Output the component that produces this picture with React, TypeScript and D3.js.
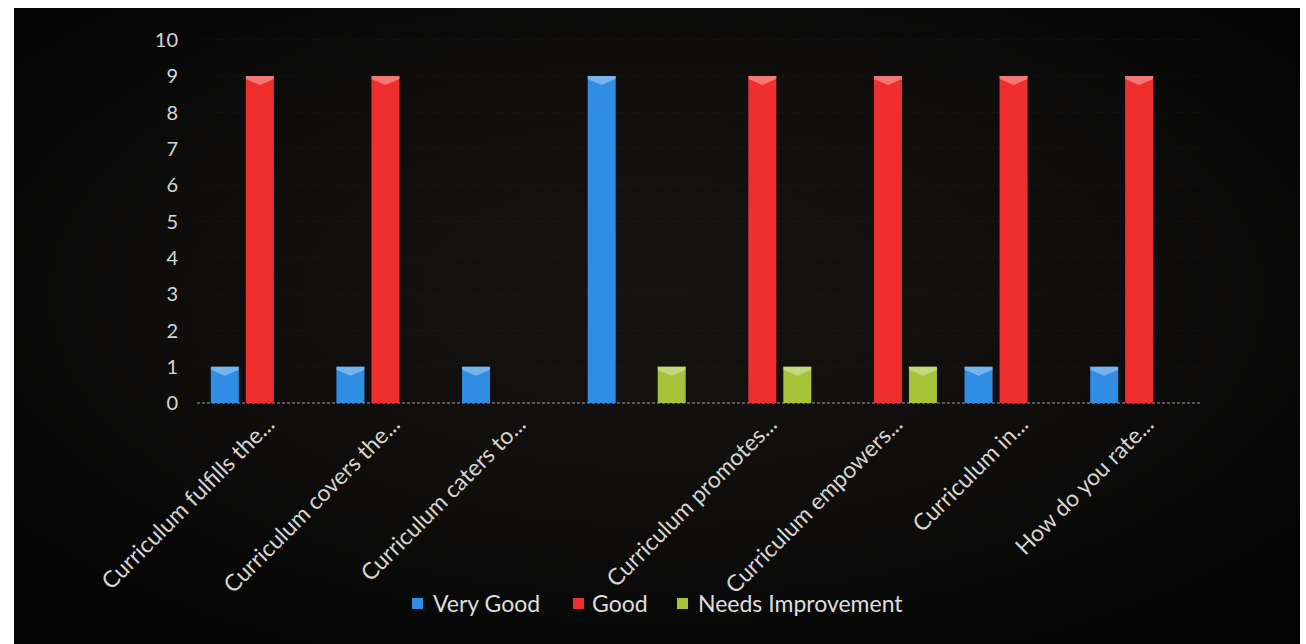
import React from "react";
import * as d3 from "d3";

const categories: string[] = [
  "Curriculum fulfills the...",
  "Curriculum covers the...",
  "Curriculum caters to...",
  "",
  "Curriculum promotes...",
  "Curriculum empowers...",
  "Curriculum in...",
  "How do you rate...",
];

const seriesNames: string[] = ["Very Good", "Good", "Needs Improvement"];
const veryGood: number[] = [1, 1, 1, 9, 0, 0, 1, 1];
const good: number[] = [9, 9, 0, 0, 9, 9, 9, 9];
const needsImprovement: number[] = [0, 0, 0, 1, 1, 1, 0, 0];
const seriesColors: string[] = ["#2f8de4", "#ef2f2d", "#a6c33a"];
const yTicks: number[] = [0, 1, 2, 3, 4, 5, 6, 7, 8, 9, 10];

const W = 1306;
const H = 644;
const plot = { left: 197, right: 1202, top: 39.7, bottom: 403 };

export default function App() {
  const seriesValues = [veryGood, good, needsImprovement];
  const x0 = d3
    .scaleBand<string>()
    .domain(categories.map((_, i) => String(i)))
    .range([plot.left, plot.right])
    .paddingInner(0)
    .paddingOuter(0);
  const groupPad = 13.8;
  const x1 = d3
    .scaleBand<string>()
    .domain(seriesNames)
    .range([groupPad, x0.bandwidth() - groupPad])
    .paddingInner(0.2)
    .paddingOuter(0);
  const y = d3.scaleLinear().domain([0, 10]).range([plot.bottom, plot.top]);
  const bw = x1.bandwidth();
  const font = "Lato, 'Open Sans', sans-serif";

  const legendItems = [
    { sx: 412, tx: 433 },
    { sx: 573, tx: 592 },
    { sx: 677, tx: 698 },
  ];

  return (
    <svg
      width={W}
      height={H}
      style={{ position: "absolute", left: 0, top: 0, background: "#ffffff" }}
    >
      <defs>
        <radialGradient id="bg" cx="50%" cy="45%" r="65%">
          <stop offset="0%" stopColor="#151413" />
          <stop offset="60%" stopColor="#0e0d0c" />
          <stop offset="100%" stopColor="#040404" />
        </radialGradient>
      </defs>
      <rect x={14} y={8} width={1286} height={H - 8} fill="url(#bg)" />

      {/* gridlines */}
      {yTicks.slice(1).map((t) => (
        <line
          key={"g" + t}
          x1={plot.left}
          x2={plot.right}
          y1={y(t)}
          y2={y(t)}
          stroke="#3a3a3a"
          strokeWidth={1}
          strokeDasharray="2,3"
          opacity={0.25}
        />
      ))}
      {/* axis line */}
      <line
        x1={plot.left}
        x2={plot.right}
        y1={y(0)}
        y2={y(0)}
        stroke="#6e6e6e"
        strokeWidth={1.5}
        strokeDasharray="3,2"
      />

      {/* y tick labels */}
      {yTicks.map((t) => (
        <text
          key={"y" + t}
          x={178}
          y={y(t)}
          dy="0.36em"
          textAnchor="end"
          fill="#d6d6d6"
          fontFamily={font}
          fontSize={20}
        >
          {t}
        </text>
      ))}

      {/* bars */}
      {categories.map((c, ci) =>
        seriesNames.map((s, si) => {
          const v = seriesValues[si][ci];
          if (!v) return null;
          const bx = (x0(String(ci)) as number) + (x1(s) as number);
          const top = y(v);
          const h = y(0) - top;
          return (
            <g key={ci + "-" + si}>
              <rect x={bx} y={top} width={bw} height={h} fill={seriesColors[si]} />
              <polygon
                points={`${bx},${top} ${bx + bw},${top} ${bx + bw},${top + 3} ${
                  bx + bw / 2
                },${top + 9} ${bx},${top + 3}`}
                fill="#ffffff"
                opacity={0.35}
              />
            </g>
          );
        })
      )}

      {/* category labels */}
      {categories.map((c, ci) => {
        const cx = (x0(String(ci)) as number) + x0.bandwidth() / 2;
        return (
          <text
            key={"c" + ci}
            transform={`translate(${cx + 16},${426}) rotate(-45)`}
            textAnchor="end"
            fill="#d8d4d0"
            fontFamily={font}
            fontSize={23}
          >
            {c}
          </text>
        );
      })}

      {/* legend */}
      {seriesNames.map((s, si) => (
        <g key={"l" + si}>
          <rect
            x={legendItems[si].sx}
            y={598}
            width={11}
            height={11}
            fill={seriesColors[si]}
          />
          <text
            x={legendItems[si].tx}
            y={612}
            fill="#dedede"
            fontFamily={font}
            fontSize={23}
          >
            {s}
          </text>
        </g>
      ))}
    </svg>
  );
}
